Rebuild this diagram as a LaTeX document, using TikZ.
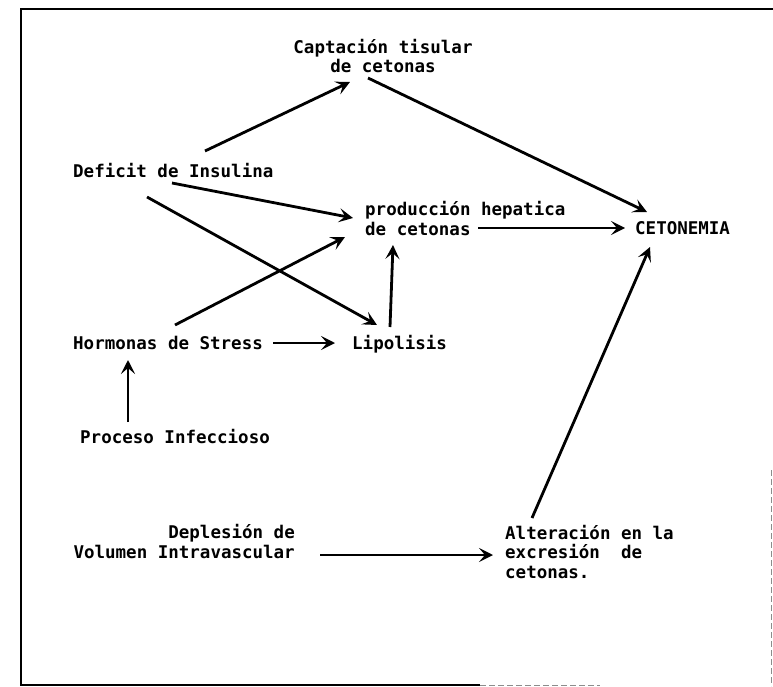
\documentclass[tikz,border=0pt]{standalone}
\usepackage{fontspec}
\setmainfont{DejaVu Sans Mono}
\usetikzlibrary{arrows.meta}
\tikzset{
  lbl/.style={inner sep=0pt, font=\bfseries\fontsize{17.5}{19.5}\selectfont},
  arr/.style={line width=2.8pt, -{Stealth[length=14pt,width=14pt,inset=6pt]}},
  frame/.style={line width=1.8pt},
  faint/.style={line width=1pt, black!45, dash pattern=on 6pt off 3pt}
}
\begin{document}
\begin{tikzpicture}[x=1pt,y=-1pt]
\useasboundingbox (0,0) rectangle (773,687);
% frame
\draw[frame] (773,9) -- (21,9) -- (21,685) -- (480,685);
\draw[faint] (480,685) -- (600,685);
\draw[faint] (771,470) -- (771,686);
% nodes (base anchor of a multi-line node = baseline of its last line)
\node[lbl, align=center, anchor=base] (capt) at (383,73) {Captación tisular\\de cetonas};
\node[lbl, anchor=base west] (def) at (73,178) {Deficit de Insulina};
\node[lbl, align=left, anchor=base west] (prod) at (365,235) {producción hepatica\\de cetonas};
\node[lbl, anchor=base west] (ceto) at (635,234) {CETONEMIA};
\node[lbl, anchor=base west] (horm) at (73,349) {Hormonas de Stress};
\node[lbl, anchor=base west] (lipo) at (352,349) {Lipolisis};
\node[lbl, anchor=base west] (proc) at (80,443) {Proceso Infeccioso};
\node[lbl, align=right, anchor=base east] (depl) at (295,558) {Deplesión de\\Volumen Intravascular};
\node[lbl, align=left, anchor=base west] (alte) at (505,578) {Alteración en la\\excresión~~de\\cetonas.};
% connectors
\draw[arr] ([shift={(132,-27)}]def.base west) -- ([shift={(-33,9)}]capt.base);
\draw[arr] ([shift={(-15,5)}]capt.base) -- ([shift={(12,-22)}]ceto.base west);
\draw[arr] ([shift={(99,5)}]def.base west) -- ([shift={(-12,-17)}]prod.base west);
\draw[arr] ([shift={(74,19)}]def.base west) -- ([shift={(25,-24)}]lipo.base west);
\draw[arr] ([shift={(102,-24)}]horm.base west) -- ([shift={(-20,2)}]prod.base west);
\draw[arr] ([shift={(200,-6)}]horm.base west) -- ([shift={(-17,-6)}]lipo.base west);
\draw[arr] ([shift={(38,-22)}]lipo.base west) -- ([shift={(28,10)}]prod.base west);
\draw[arr] ([shift={(113,-7)}]prod.base west) -- ([shift={(-10,-6)}]ceto.base west);
\draw[arr] ([shift={(48,-21)}]proc.base west) -- ([shift={(55,11)}]horm.base west);
\draw[arr] ([shift={(25,-3)}]depl.base east) -- ([shift={(-12,-23)}]alte.base west);
\draw[arr] ([shift={(27,-60)}]alte.base west) -- ([shift={(15,13)}]ceto.base west);
\end{tikzpicture}
\end{document}
